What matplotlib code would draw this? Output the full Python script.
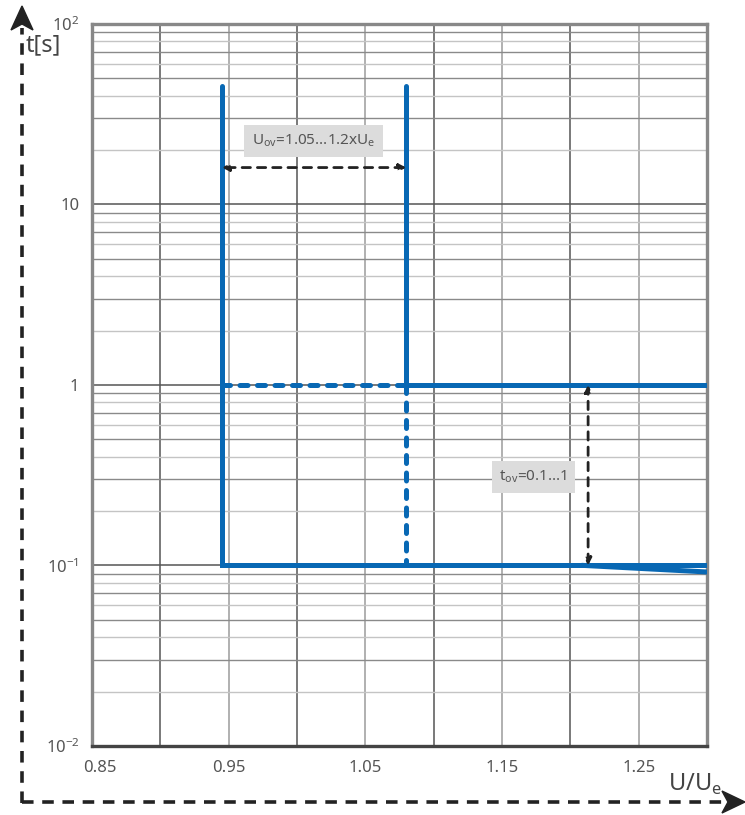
import matplotlib.pyplot as plt
from matplotlib.patches import Polygon
from matplotlib.transforms import ScaledTranslation

# values
x_ticks = [0.85, 0.95, 1.05, 1.15, 1.25]
x_grid_dark = [0.90, 1.00, 1.10, 1.20]
y_ticks = [0.01, 0.1, 1, 10, 100]
y_ticklabels = ['$\\mathregular{10^{-2}}$', '$\\mathregular{10^{-1}}$', '1', '10',
                '$\\mathregular{10^{2}}$']

u_low, u_high = 0.945, 1.08      # U_ov adjustment range (as drawn)
t_low, t_high = 0.1, 1.0         # t_ov adjustment range
t_top = 45
u_end = 1.30
branch_x = [1.21, 1.30]
branch_y = [0.1, 0.092]

blue = '#0868b4'
plt.rcParams['font.family'] = ['Noto Sans', 'DejaVu Sans']

fig = plt.figure(figsize=(7.45, 8.15), dpi=100)

# outer dashed frame arrows, in pixel coordinates
bg = fig.add_axes([0, 0, 1, 1])
bg.set_xlim(0, 745)
bg.set_ylim(815, 0)
bg.axis('off')
bg.plot([22, 22], [803, 28], color='#222', lw=2.6, dashes=(3.2, 2.4))
bg.plot([22, 728], [802, 802], color='#222', lw=2.6, dashes=(3.2, 2.4))
bg.add_patch(Polygon([[22, 6], [11, 30], [22, 24], [33, 30]], closed=True, color='#222'))
bg.add_patch(Polygon([[745, 802], [722, 791], [728, 802], [722, 813]], closed=True, color='#222'))
bg.text(26, 45, 't[s]', fontsize=17, color='#444', va='center', ha='left')
bg.text(668, 784, 'U/U$_\\mathregular{e}$', fontsize=17, color='#444', va='center', ha='left')

ax = fig.add_axes([0.1235, 0.0847, 0.8255, 0.886])
ax.set_yscale('log')
ax.set_xlim(0.85, u_end)
ax.set_ylim(0.01, 100)

# grid
for x in x_grid_dark:
    ax.axvline(x, color='#555', lw=1.1, zorder=1)
for x in x_ticks[1:]:
    ax.axvline(x, color='#aaa', lw=1.3, zorder=1)
for dec in [0.01, 0.1, 1, 10]:
    for k in range(2, 10):
        c = '#8a8a8a' if k % 2 else '#c4c4c4'
        ax.axhline(dec * k, color=c, lw=1.0, zorder=1)
for y in [0.1, 1, 10]:
    ax.axhline(y, color='#555', lw=1.1, zorder=1)

for s in ax.spines.values():
    s.set_color('#888')
    s.set_linewidth(2.4)
ax.spines['bottom'].set_color('#444')

ax.set_xticks(x_ticks)
ax.set_xticklabels([f'{v:.2f}' for v in x_ticks])
ax.set_yticks(y_ticks)
ax.set_yticklabels(y_ticklabels)
ax.minorticks_off()
ax.tick_params(length=0, labelsize=12, colors='#555')
ax.tick_params(axis='x', pad=10)
ax.tick_params(axis='y', pad=9)
first = ax.get_xticklabels()[0]
first.set_transform(first.get_transform() + ScaledTranslation(0.08, 0, fig.dpi_scale_trans))

# characteristic curves
lw = 3.6
ax.plot([u_low, u_low, u_end], [t_top, t_low, t_low], color=blue, lw=lw, zorder=4,
        solid_capstyle='round', solid_joinstyle='miter')
ax.plot([u_high, u_high], [t_top, t_high], color=blue, lw=lw, zorder=4, solid_capstyle='round')
ax.plot([u_high, u_end], [t_high, t_high], color=blue, lw=lw, zorder=4)
ax.plot([u_low, u_high], [t_high, t_high], color=blue, lw=lw, zorder=4,
        dashes=(1.6, 1.9), dash_capstyle='round')
ax.plot([u_high, u_high], [t_high, t_low], color=blue, lw=lw, zorder=4,
        dashes=(1.6, 1.9), dash_capstyle='round')
ax.plot(branch_x, branch_y, color=blue, lw=lw, zorder=4)

# dimension arrows
arr = dict(arrowstyle='<|-|>', color='#222', lw=2, linestyle=(0, (3, 2.5)),
           mutation_scale=10, shrinkA=0, shrinkB=0)
ax.annotate('', xy=(u_low, 16), xytext=(u_high, 16), arrowprops=arr, zorder=5)
ax.annotate('', xy=(1.213, t_high), xytext=(1.213, t_low), arrowprops=arr, zorder=5)

box = dict(boxstyle='square,pad=0.5', fc='#dcdcdc', ec='none')
ax.text(1.012, 22.5, 'U$_\\mathregular{ov}$=1.05...1.2xU$_\\mathregular{e}$', fontsize=11,
        color='#555', ha='center', va='center', bbox=box, zorder=6)
ax.text(1.173, 0.31, 't$_\\mathregular{ov}$=0.1...1', fontsize=11,
        color='#555', ha='center', va='center', bbox=box, zorder=6)

fig.savefig('out.png', dpi=100)
